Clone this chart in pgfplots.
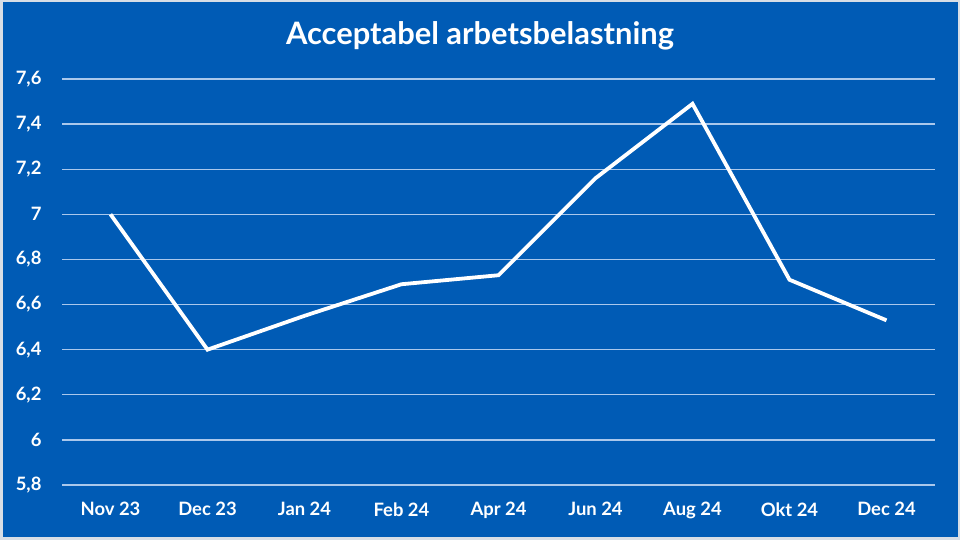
\documentclass[border=0pt]{standalone}
\usepackage{pgfplots}
\pgfplotsset{compat=1.18}
\usepackage{fontspec}
\setmainfont{Lato}
\definecolor{bgblue}{RGB}{0,91,181}
\definecolor{gridc}{RGB}{170,200,236}
\definecolor{framec}{RGB}{215,222,230}
\begin{document}
\begin{tikzpicture}[x=1bp,y=1bp]
\useasboundingbox (0,0) rectangle (960,540);
\fill[bgblue] (0,0) rectangle (960,540);
\draw[framec, line width=2.5bp] (1.25,1.25) rectangle (958.75,538.75);
\node[text=white, font=\bfseries\fontsize{31}{35}\selectfont] at (480,504) {Acceptabel arbetsbelastning};
\begin{axis}[
  at={(62bp,55bp)}, anchor=south west,
  scale only axis, width=873bp, height=406bp,
  xmin=-0.5, xmax=8.5, ymin=5.8, ymax=7.6,
  axis line style={draw=none},
  major tick length=0pt,
  xtick={0,...,8},
  xticklabels={Nov 23,Dec 23,Jan 24,Feb 24,Apr 24,Jun 24,Aug 24,Okt 24,Dec 24},
  ytick={5.8,6,6.2,6.4,6.6,6.8,7,7.2,7.4,7.6},
  yticklabels={{5,8},{6},{6,2},{6,4},{6,6},{6,8},{7},{7,2},{7,4},{7,6}},
  ymajorgrids,
  grid style={gridc, line width=1.3bp},
  ticklabel style={text=white, font=\bfseries\fontsize{18.5}{20}\selectfont},
  yticklabel style={xshift=-17bp},
  xticklabel style={yshift=-14bp},
  clip=false,
]
\addplot[white, line width=3.8bp, line join=miter] coordinates {
(0,7.00) (1,6.40) (2,6.55) (3,6.69) (4,6.73) (5,7.16) (6,7.49) (7,6.71) (8,6.53)
};
\end{axis}
\end{tikzpicture}
\end{document}
